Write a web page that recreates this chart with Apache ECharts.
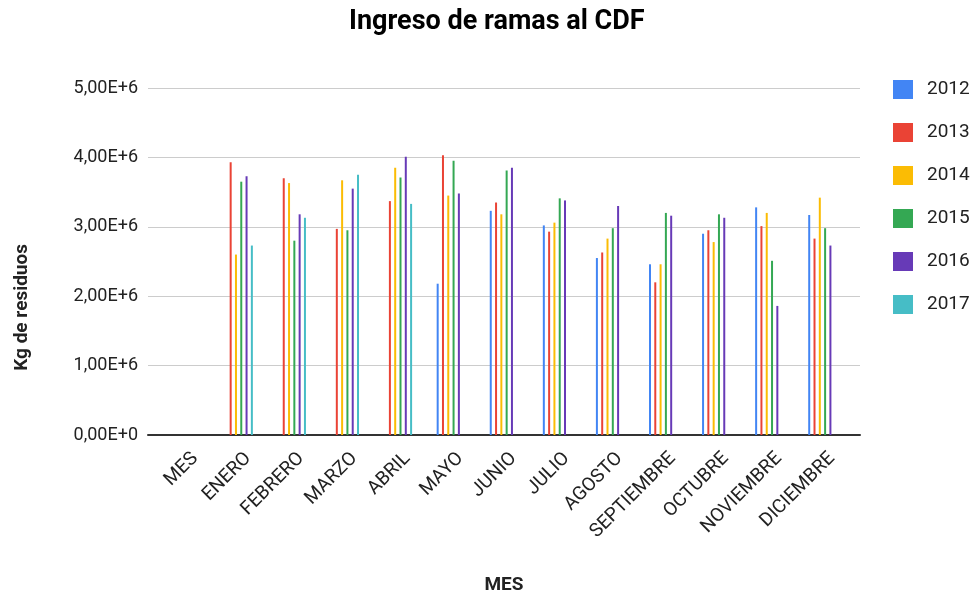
<!DOCTYPE html>
<html>
<head>
<meta charset="utf-8">
<script src="https://cdn.jsdelivr.net/npm/echarts@6/dist/echarts.min.js"></script>
<style>
  html, body { margin: 0; padding: 0; background: #fff; }
  #chart { width: 978px; height: 592px; }
</style>
</head>
<body>
<div id="chart"></div>
<script>
// datos (kg)
const meses = ['MES', 'ENERO', 'FEBRERO', 'MARZO', 'ABRIL', 'MAYO', 'JUNIO', 'JULIO', 'AGOSTO', 'SEPTIEMBRE', 'OCTUBRE', 'NOVIEMBRE', 'DICIEMBRE']
const anios = ['2012', '2013', '2014', '2015', '2016', '2017']
const v2012 = [null, null, null, null, null, 2180000, 3230000, 3020000, 2550000, 2460000, 2900000, 3280000, 3170000]
const v2013 = [null, 3930000, 3700000, 2970000, 3370000, 4030000, 3350000, 2930000, 2630000, 2200000, 2950000, 3010000, 2830000]
const v2014 = [null, 2600000, 3630000, 3670000, 3850000, 3450000, 3180000, 3060000, 2830000, 2460000, 2780000, 3200000, 3420000]
const v2015 = [null, 3650000, 2800000, 2950000, 3710000, 3950000, 3810000, 3410000, 2980000, 3200000, 3180000, 2510000, 2980000]
const v2016 = [null, 3730000, 3180000, 3550000, 4010000, 3480000, 3850000, 3380000, 3300000, 3160000, 3130000, 1860000, 2730000]
const v2017 = [null, 2730000, 3130000, 3750000, 3330000, null, null, null, null, null, null, null, null]
const yTicks = [0, 1000000, 2000000, 3000000, 4000000, 5000000]

const valores = [v2012, v2013, v2014, v2015, v2016, v2017]
const colores = ['#4285F4', '#EA4335', '#FBBC04', '#34A853', '#673AB7', '#46BDC6']

const fuente = 'Roboto, "Noto Sans", sans-serif'

const formatoY = (v) => {
  const n = Math.round(v / 1000000)
  return n + ',00E+' + (n === 0 ? 0 : 6)
}

const chart = echarts.init(document.getElementById('chart'))

const series = anios.map((anio, i) => ({
  name: anio,
  type: 'bar',
  xAxisIndex: 1,
  yAxisIndex: 1,
  data: valores[i],
  barWidth: 2,
  barGap: '165%',
  itemStyle: { color: colores[i] },
  emphasis: { disabled: true }
}))

const option = {
  animation: false,
  textStyle: { fontFamily: fuente },
  title: {
    text: 'Ingreso de ramas al CDF',
    left: 349,
    top: 9,
    padding: 0,
    textStyle: { fontFamily: fuente, fontSize: 27, fontWeight: 'bold', color: '#000' }
  },
  legend: {
    data: anios,
    orient: 'vertical',
    left: 893,
    top: 80,
    padding: 0,
    icon: 'rect',
    itemWidth: 20,
    itemHeight: 19,
    itemGap: 24,
    textStyle: { fontFamily: fuente, fontSize: 19, color: '#222', padding: [0, 0, 0, 9] }
  },
  grid: [
    { left: 148, right: 118, top: 88, bottom: 157, outerBoundsMode: 'none', containLabel: false },
    { left: 159, right: 129, top: 88, bottom: 157, outerBoundsMode: 'none', containLabel: false }
  ],
  xAxis: [
    {
      type: 'category',
      gridIndex: 0,
      data: meses,
      axisLine: { lineStyle: { color: '#333', width: 2 } },
      axisTick: { show: false },
      axisLabel: { show: false },
      name: 'MES',
      nameLocation: 'middle',
      nameGap: 141,
      nameTextStyle: { fontFamily: fuente, fontSize: 19, fontWeight: 'bold', color: '#222' }
    },
    {
      type: 'category',
      gridIndex: 1,
      data: meses,
      axisLine: { show: false },
      axisTick: { show: false },
      axisLabel: {
        rotate: 45,
        interval: 0,
        margin: 11,
        verticalAlign: 'top',
        padding: [4, 0, 0, 0],
        fontFamily: fuente,
        fontSize: 19,
        color: '#222'
      }
    }
  ],
  yAxis: [
    {
      type: 'value',
      gridIndex: 0,
      min: yTicks[0],
      max: yTicks[yTicks.length - 1],
      interval: 1000000,
      axisLine: { show: false },
      axisTick: { show: false },
      splitLine: { lineStyle: { color: '#ccc', width: 1 } },
      axisLabel: {
        margin: 10,
        fontFamily: fuente,
        fontSize: 18,
        color: '#222',
        formatter: formatoY
      }
    },
    {
      type: 'value',
      gridIndex: 1,
      min: yTicks[0],
      max: yTicks[yTicks.length - 1],
      interval: 1000000,
      show: false,
      splitLine: { show: false }
    }
  ],
  graphic: [
    {
      type: 'text',
      left: 13,
      top: 244,
      rotation: Math.PI / 2,
      style: {
        text: 'Kg de residuos',
        font: 'bold 19px ' + fuente,
        fill: '#222'
      }
    }
  ],
  series
}

chart.setOption(option)
</script>
</body>
</html>
